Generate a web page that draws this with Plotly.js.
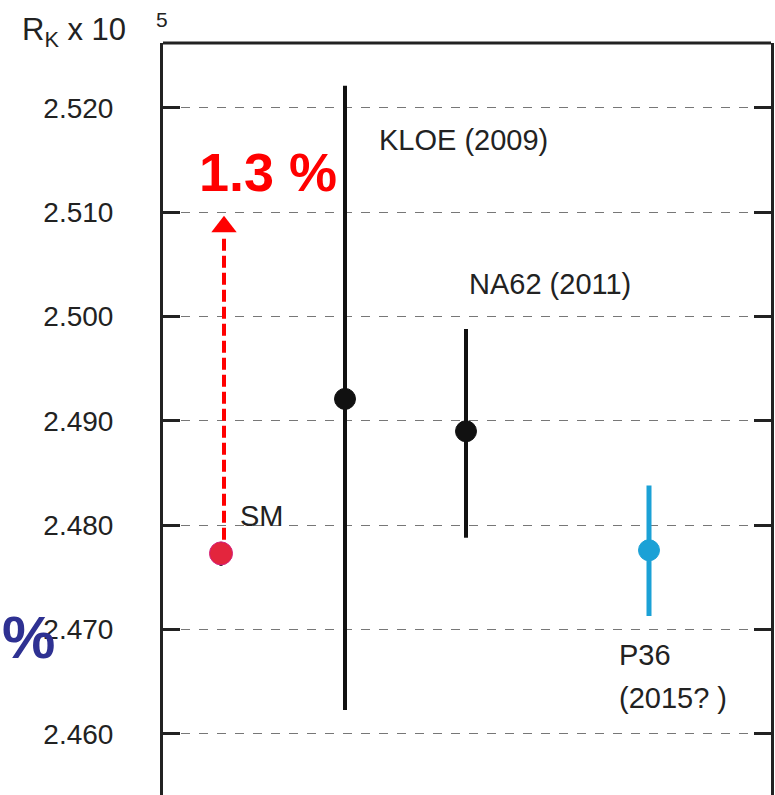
<!DOCTYPE html>
<html><head><meta charset="utf-8">
<script src="https://cdn.plot.ly/plotly-3.0.1.min.js"></script>
<style>html,body{margin:0;padding:0;background:#fff}#c{width:775px;height:795px}</style>
</head><body><div id="c"></div>
<script>
const names = ["SM", "KLOE (2009)", "NA62 (2011)", "P36"];
const xPos = [0.58, 1.82, 3.03, 4.86];
const rk = [2.4773, 2.4921, 2.4890, 2.4776];
const errUp = [0.0011, 0.0300, 0.0098, 0.0062];
const errDn = [0.0012, 0.0298, 0.0102, 0.0063];
const tickVals = [2.460, 2.470, 2.480, 2.490, 2.500, 2.510, 2.520];
const tickText = ["2.460", "2.470", "2.480", "2.490", "2.500", "2.510", "2.520"];
const arrowFrom = 2.4786, arrowTo = 2.5077, arrowTip = 2.5086;

const F = "Liberation Sans, Arial, sans-serif";
const pt = (i, color, line, ecol, ew) => ({
  type: "scatter", mode: "markers", x: [xPos[i]], y: [rk[i]], name: names[i],
  marker: {size: i === 0 ? 23 : 21, color: color, line: {color: line, width: 1}},
  error_y: {type: "data", symmetric: false, array: [errUp[i]], arrayminus: [errDn[i]], color: ecol, thickness: ew, width: 0},
  showlegend: false, hoverinfo: "skip"
});
const traces = [
  pt(1, "#111", "#111", "#111", 4),
  pt(2, "#111", "#111", "#111", 4),
  pt(3, "#1ba1d6", "#1ba1d6", "#1ba1d6", 5),
  {type: "scatter", mode: "lines", x: [xPos[0] + 0.03, xPos[0] + 0.03], y: [arrowFrom, arrowTo],
   line: {color: "#f00", width: 4, dash: "12px,5px"}, showlegend: false, hoverinfo: "skip"},
  {type: "scatter", mode: "markers", x: [xPos[0] + 0.03], y: [arrowTip],
   marker: {symbol: "triangle-up", size: 22, color: "#f00"}, showlegend: false, hoverinfo: "skip"},
  pt(0, "#e3253d", "#d4207c", "#111", 3)
];
const lab = (x, y, t) => ({x: x, y: y, xanchor: "left", yanchor: "middle", text: t, showarrow: false,
  font: {family: F, size: 29, color: "#222"}});
const layout = {
  width: 775, height: 795, margin: {l: 163, r: 4, t: 43, b: 0},
  paper_bgcolor: "#fff", plot_bgcolor: "#fff", showlegend: false,
  xaxis: {range: [0, 6.08], showgrid: false, zeroline: false, showline: false, showticklabels: false, ticks: ""},
  yaxis: {range: [2.45415, 2.5262], tickvals: tickVals, ticktext: tickText,
    showgrid: true, gridcolor: "#777", griddash: "dash", gridwidth: 1,
    zeroline: false, showline: true, linecolor: "#222", linewidth: 3, mirror: "ticks",
    ticks: "inside", ticklen: 17, tickwidth: 3, tickcolor: "#222",
    ticklabelstandoff: 41,
    tickfont: {family: F, size: 28, color: "#222"}},
  shapes: [{type: "line", xref: "paper", yref: "paper", x0: 0, x1: 1, y0: 1, y1: 1, line: {color: "#222", width: 3}}],
  annotations: [
    {xref: "paper", yref: "paper", x: -0.2352, y: 1.0146, xanchor: "left", yanchor: "middle",
     text: "R<sub>K</sub> x 10", showarrow: false, font: {family: F, size: 31, color: "#222"}},
    {xref: "paper", yref: "paper", x: -0.0016, y: 1.0306, xanchor: "center", yanchor: "middle",
     text: "5", showarrow: false, font: {family: F, size: 21, color: "#222"}},
    {x: 1.05, y: 2.5138, xanchor: "center", yanchor: "middle", text: "<b>1.3 %</b>", showarrow: false,
     font: {family: F, size: 54, color: "#f00"}},
    lab(2.14, 2.5169, "KLOE (2009)"),
    lab(3.04, 2.5031, "NA62 (2011)"),
    lab(0.75, 2.4809, "SM"),
    lab(4.54, 2.4676, "P36"),
    lab(4.54, 2.4634, "(2015? )"),
    {xref: "paper", x: -0.268, y: 2.4692, xanchor: "left", yanchor: "middle", text: "<b>%</b>", showarrow: false,
     font: {family: F, size: 60, color: "#2e3192"}}
  ]
};
Plotly.newPlot("c", traces, layout, {staticPlot: true});
</script></body></html>
